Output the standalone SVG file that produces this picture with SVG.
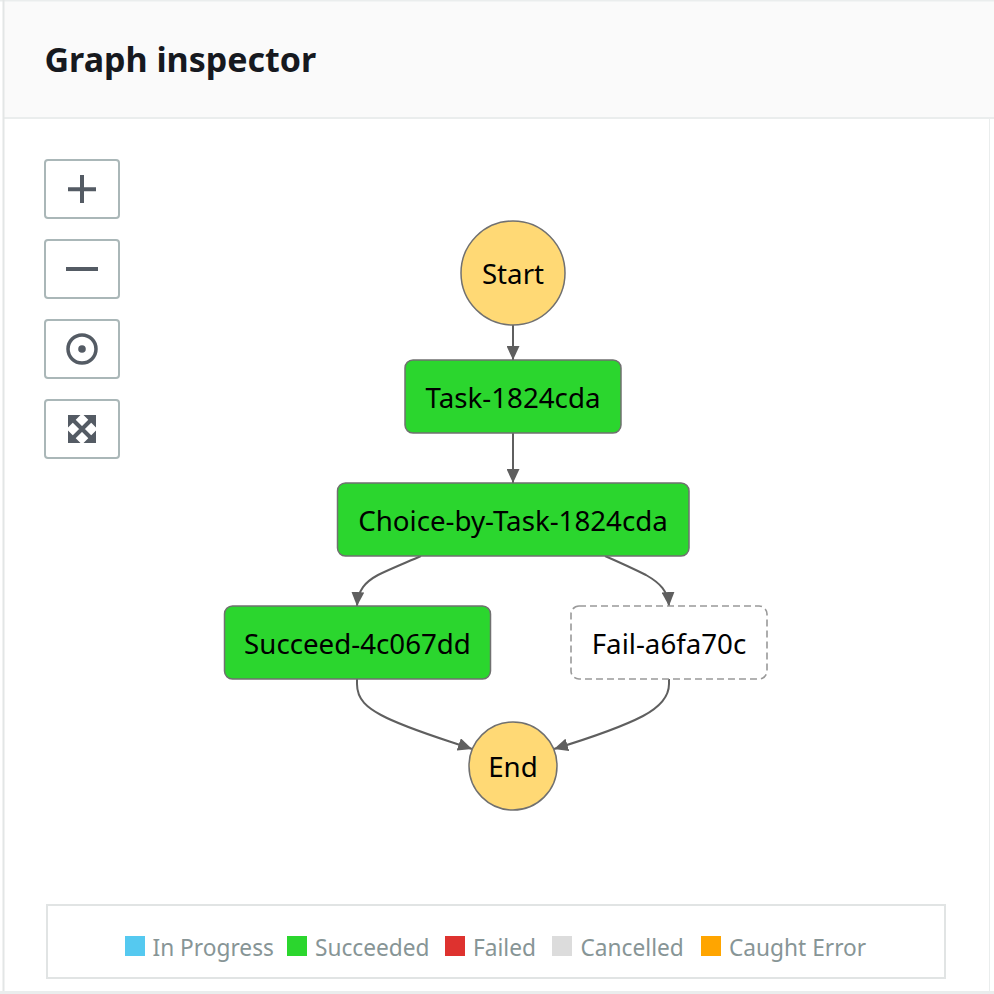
<svg xmlns="http://www.w3.org/2000/svg" width="994" height="994" viewBox="0 0 994 994">
<style>
text{font-family:"Noto Sans","Open Sans","Liberation Sans",sans-serif}
.title{font-size:34px;font-weight:700;fill:#16191f}
.lbl{font-size:27.700px;fill:#000;text-anchor:middle}
.leg{font-size:22.700px;fill:#879596}
.btn{fill:#fff;stroke:#aab7b8;stroke-width:2}
.ok{fill:#2bd62e;stroke:#707070;stroke-width:1.500}
.se{fill:#ffd975;stroke:#707070;stroke-width:1.500}
.edge{fill:none;stroke:#5f5f5f;stroke-width:2;marker-end:url(#arr)}
.ic{fill:#545b64}
.ics{fill:none;stroke:#545b64}
</style>
<defs>
<marker id="arr" viewBox="0 0 14 13" refX="14" refY="6.500" markerWidth="14" markerHeight="13" markerUnits="userSpaceOnUse" orient="auto"><path d="M0 0L14 6.500L0 13Z" fill="#5f5f5f"/></marker>
</defs>
<rect width="994" height="994" fill="#fff"/>
<g id="panel">
<rect x="4" y="1" width="990" height="117" fill="#fafafa"/>
<path d="M0 0.500H994M4 118H994" stroke="#eaeded" stroke-width="2" fill="none"/>
<path d="M3.500 0V994" stroke="#e3e6e6" stroke-width="2" fill="none"/>
<path d="M0 992.500H994" stroke="#eaeded" stroke-width="3" fill="none"/>
<path d="M989.500 118V994" stroke="#eaeded" stroke-width="1" fill="none"/>
<text class="title" x="44.500" y="72">Graph inspector</text>
</g>
<g id="zoom-in"><rect class="btn" x="45" y="160" width="74" height="58" rx="3"/><path class="ic" d="M68 187.200H96V191.200H68ZM80 175H84V203H80Z"/></g>
<g id="zoom-out"><rect class="btn" x="45" y="240" width="74" height="58" rx="3"/><rect class="ic" x="66" y="267" width="32" height="4"/></g>
<g id="center"><rect class="btn" x="45" y="320" width="74" height="58" rx="3"/><circle class="ics" cx="82" cy="349" r="14" stroke-width="3.500"/><circle class="ic" cx="82" cy="349" r="3.800"/></g>
<g id="fit"><rect class="btn" x="45" y="400" width="74" height="58" rx="3"/><path class="ic" d="M68 415H80.500L68 427.500ZM96 415V427.500L83.500 415ZM68 443V430.500L80.500 443ZM96 443H83.500L96 430.500Z"/><path class="ics" stroke-width="4" d="M71 418L93 440M93 418L71 440"/></g>
<g id="connectors">
<path class="edge" d="M513 325V360"/>
<path class="edge" d="M513 433V483"/>
<path class="edge" d="M421 556C405 563 390 569 378 575C365 582 358 590 357 606"/>
<path class="edge" d="M605 556C621 563 634 569 646 575C660 583 668 591 669 606"/>
<path class="edge" d="M357 679V684C357 700 368 708 381 715C405 728 440 738 472 749"/>
<path class="edge" d="M669 679V684C669 698 658 708 643 716C620 728 590 738 554 749"/>
</g>
<g id="start"><circle class="se" cx="513" cy="273" r="52"/><text class="lbl" x="513" y="284">Start</text></g>
<g id="task"><rect class="ok" x="405" y="360" width="216" height="73" rx="8"/><text class="lbl" x="513" y="407.500">Task-1824cda</text></g>
<g id="choice"><rect class="ok" x="337.500" y="483" width="351.500" height="73" rx="8"/><text class="lbl" x="513" y="530.500">Choice-by-Task-1824cda</text></g>
<g id="succeed"><rect class="ok" x="224.500" y="606" width="266" height="73" rx="8"/><text class="lbl" x="357.500" y="653.500">Succeed-4c067dd</text></g>
<g id="fail"><rect x="571" y="606" width="196" height="73" rx="8" fill="#fff" stroke="#999" stroke-width="1.600" stroke-dasharray="7 4"/><text class="lbl" x="669" y="653.500">Fail-a6fa70c</text></g>
<g id="end"><circle class="se" cx="513" cy="766" r="44"/><text class="lbl" x="513" y="777">End</text></g>
<g id="legend">
<rect x="47" y="905" width="898" height="73" fill="#fff" stroke="#e1e4e4" stroke-width="2"/>
<rect x="125" y="936" width="20" height="20" fill="#55c9f0"/><text class="leg" x="152.500" y="956">In Progress</text>
<rect x="287" y="936" width="20" height="20" fill="#2bd62e"/><text class="leg" x="315" y="956">Succeeded</text>
<rect x="445" y="936" width="20" height="20" fill="#de322f"/><text class="leg" x="473" y="956">Failed</text>
<rect x="552" y="936" width="20" height="20" fill="#dcdcdc"/><text class="leg" x="580.500" y="956">Cancelled</text>
<rect x="701" y="936" width="20" height="20" fill="#ffa500"/><text class="leg" x="729" y="956">Caught Error</text>
</g>
</svg>
